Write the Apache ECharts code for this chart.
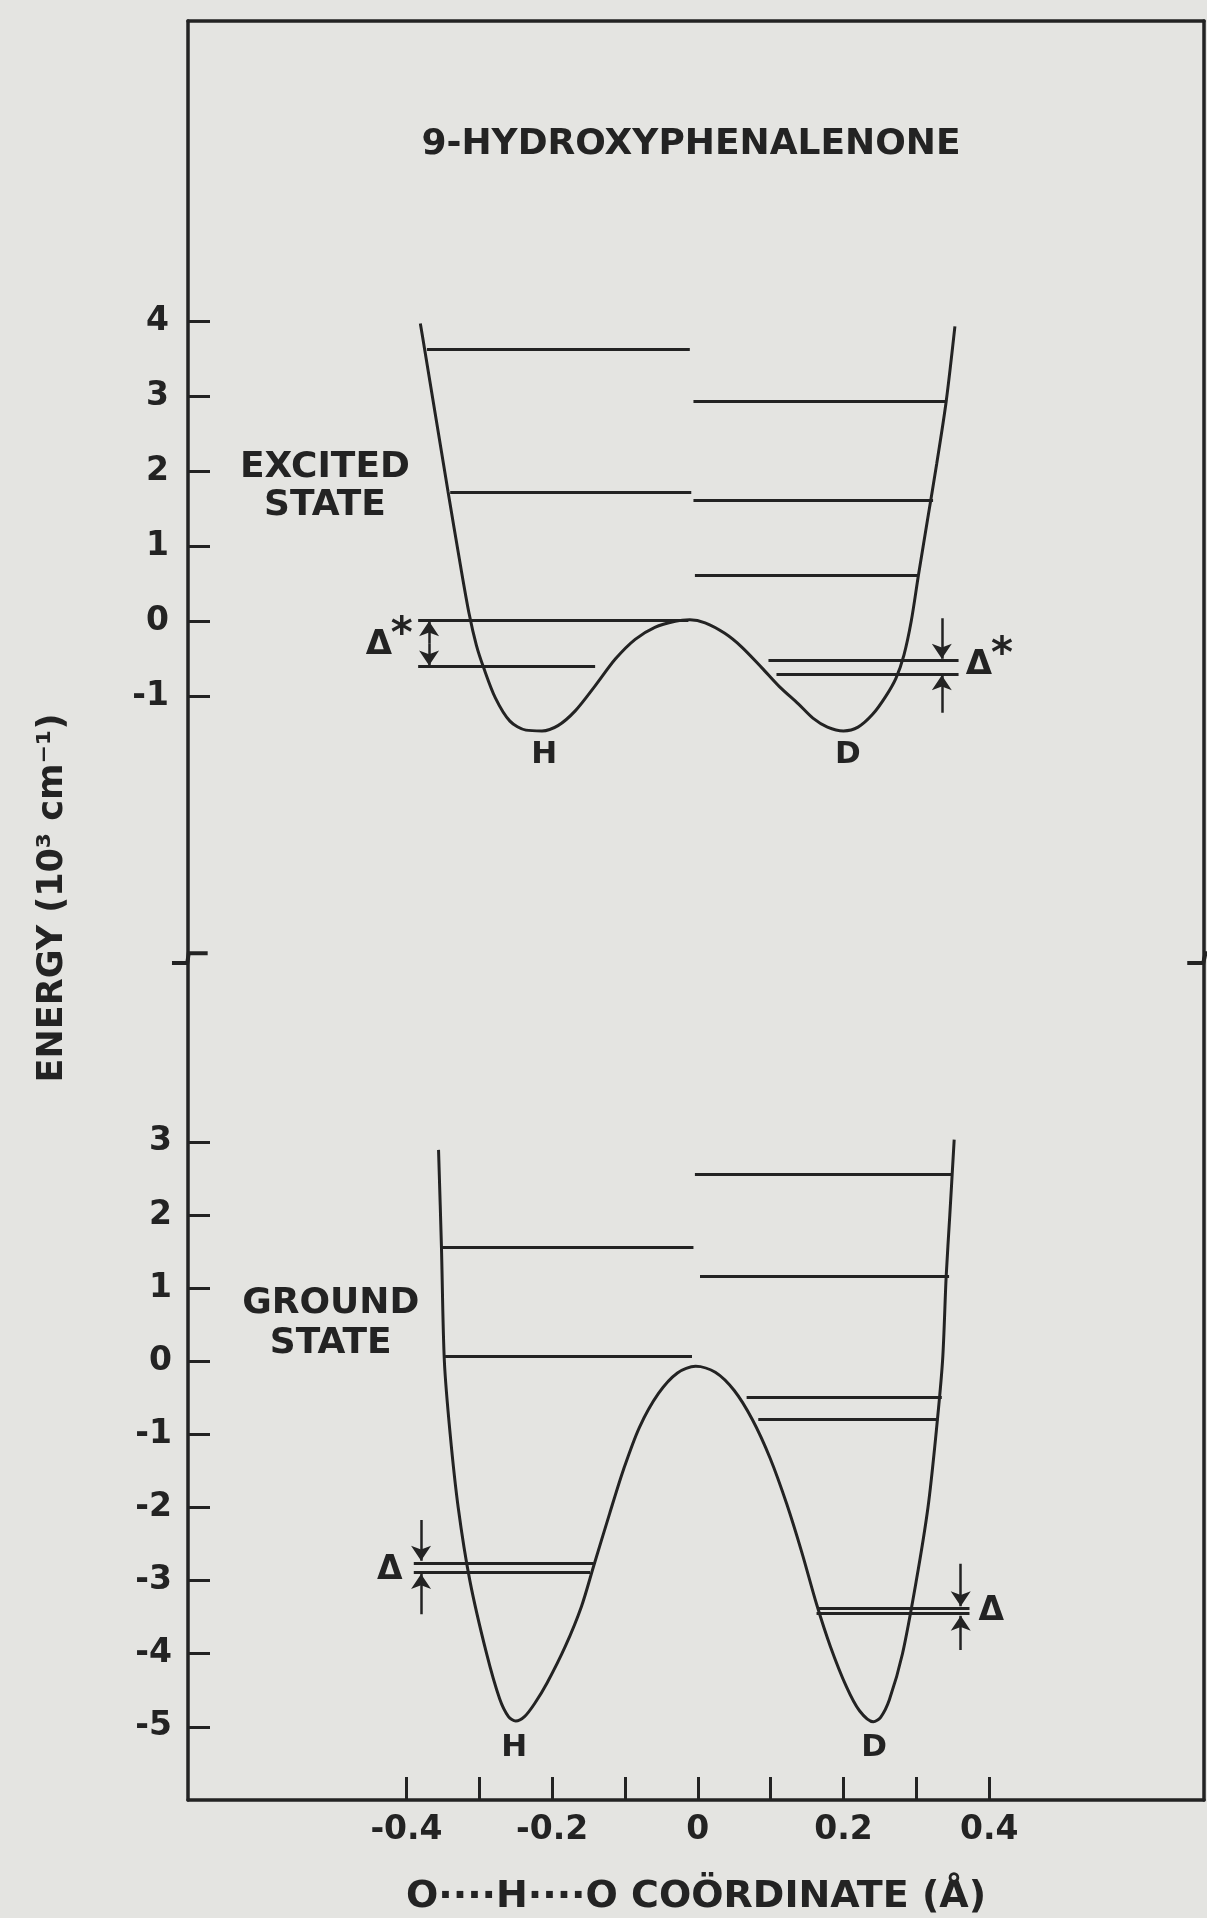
<!DOCTYPE html>
<html><head><meta charset="utf-8">
<script src="https://cdn.jsdelivr.net/npm/echarts@6/dist/echarts.min.js"></script>
<style>html,body{margin:0;padding:0;background:#e4e4e1;}#c{width:1207px;height:1918px;}</style>
</head><body><div id="c"></div>
<script>
// ---- axis ticks / labels ----
const xTickValues = [-0.4, -0.3, -0.2, -0.1, 0, 0.1, 0.2, 0.3, 0.4];
const xLabelValues = [-0.4, -0.2, 0, 0.2, 0.4];
const excitedTickValues = [-1, 0, 1, 2, 3, 4];
const groundTickValues = [-5, -4, -3, -2, -1, 0, 1, 2, 3];

// ---- potential curves [x (Å), energy (10^3 cm^-1)] ----
const excitedCurve = [
  [-0.381, 3.97], [-0.375, 3.62], [-0.343, 1.73], [-0.326, 0.75], [-0.314, 0.10],
  [-0.304, -0.32], [-0.294, -0.62], [-0.278, -1.02], [-0.258, -1.33], [-0.236, -1.45],
  [-0.214, -1.46], [-0.192, -1.39], [-0.168, -1.19], [-0.141, -0.86], [-0.113, -0.50],
  [-0.086, -0.24], [-0.059, -0.08], [-0.031, 0.00], [-0.011, 0.02], [0.010, -0.02],
  [0.037, -0.16], [0.060, -0.34], [0.088, -0.62], [0.112, -0.87], [0.138, -1.10],
  [0.158, -1.29], [0.178, -1.41], [0.200, -1.46], [0.220, -1.41], [0.240, -1.24],
  [0.258, -1.00], [0.272, -0.76], [0.283, -0.45], [0.293, 0.00], [0.303, 0.62],
  [0.316, 1.39], [0.328, 2.10], [0.341, 2.93], [0.353, 3.93]
];
const groundCurve = [
  [-0.356, 2.89], [-0.352, 1.56], [-0.348, 0.00], [-0.340, -1.00], [-0.329, -2.00],
  [-0.313, -3.00], [-0.290, -4.00], [-0.272, -4.62], [-0.260, -4.86], [-0.250, -4.92],
  [-0.238, -4.86], [-0.224, -4.68], [-0.207, -4.40], [-0.182, -3.90], [-0.160, -3.36],
  [-0.143, -2.80], [-0.121, -2.08], [-0.102, -1.48], [-0.080, -0.90], [-0.054, -0.44],
  [-0.028, -0.16], [-0.003, -0.07], [0.024, -0.15], [0.050, -0.40], [0.075, -0.80],
  [0.099, -1.32], [0.122, -1.95], [0.143, -2.62], [0.163, -3.32], [0.182, -3.90],
  [0.204, -4.45], [0.222, -4.78], [0.241, -4.93], [0.251, -4.87], [0.263, -4.63],
  [0.281, -4.00], [0.300, -3.00], [0.316, -2.00], [0.327, -1.00], [0.336, 0.00],
  [0.341, 1.16], [0.346, 2.00], [0.352, 3.03]
];

// ---- vibrational levels [xStart, xEnd, energy] ----
const excitedLevels = [
  [-0.372, -0.011, 3.62], [-0.340, -0.009, 1.72], [-0.384, -0.013, 0.01], [-0.384, -0.141, -0.60],
  [-0.006, 0.341, 2.93], [-0.006, 0.323, 1.61], [-0.004, 0.303, 0.62],
  [0.097, 0.358, -0.525], [0.108, 0.358, -0.70]
];
const groundLevels = [
  [-0.352, -0.006, 1.56], [-0.347, -0.008, 0.07], [-0.390, -0.143, -2.76], [-0.390, -0.148, -2.88],
  [-0.004, 0.349, 2.56], [0.003, 0.345, 1.16], [0.067, 0.335, -0.49], [0.083, 0.330, -0.80],
  [0.165, 0.373, -3.38], [0.163, 0.373, -3.45]
];

// ---- splitting arrows [x, yFrom, yTo] ----
const excitedArrows = [
  [-0.369, -0.30, 0.0], [-0.369, -0.30, -0.59],
  [0.335, 0.04, -0.50], [0.335, -1.22, -0.72]
];
const groundArrows = [
  [-0.380, -2.17, -2.73], [-0.380, -3.46, -2.91],
  [0.361, -2.77, -3.35], [0.361, -3.95, -3.48]
];

// ---- annotations [x, y, text] ----
const excitedStateLabel = [[-0.512, 1.79, 'EXCITED\nSTATE']];
const groundStateLabel = [[-0.504, 0.52, 'GROUND\nSTATE']];
const excitedWellLabels = [[-0.211, -1.78, 'H'], [0.206, -1.78, 'D']];
const groundWellLabels = [[-0.252, -5.29, 'H'], [0.242, -5.29, 'D']];
const excitedDeltaLabels = [[-0.438, -0.32, 'Δ'], [0.386, -0.58, 'Δ']];
const groundDeltaLabels = [[-0.423, -2.86, 'Δ'], [0.403, -3.42, 'Δ']];

const INK = '#232323';
const FONT = 'DejaVu Sans';

const chart = echarts.init(document.getElementById('c'), null, {renderer: 'canvas'});

function levelSeries(levels, gi) {
  return {
    type: 'lines', coordinateSystem: 'cartesian2d', xAxisIndex: gi, yAxisIndex: gi * 2,
    polyline: false, silent: true, z: 3,
    lineStyle: {color: INK, width: 3, opacity: 1},
    data: levels.map(l => ({coords: [[l[0], l[2]], [l[1], l[2]]]}))
  };
}
function arrowSeries(arrows, gi) {
  return {
    type: 'lines', coordinateSystem: 'cartesian2d', xAxisIndex: gi, yAxisIndex: gi * 2,
    polyline: false, silent: true, z: 4,
    symbol: ['none', 'arrow'], symbolSize: 15,
    lineStyle: {color: INK, width: 2.5, opacity: 1},
    itemStyle: {color: INK, opacity: 1},
    data: arrows.map(a => ({coords: [[a[0], a[1]], [a[0], a[2]]]}))
  };
}
function textSeries(items, gi, size, lineH, offset) {
  return {
    type: 'scatter', xAxisIndex: gi, yAxisIndex: gi * 2, silent: true, z: 5,
    symbolSize: 1, itemStyle: {color: 'rgba(0,0,0,0)', opacity: 1},
    label: {
      show: true, position: 'inside', formatter: '{b}', offset: offset || [0, 0],
      color: INK, opacity: 1, fontFamily: FONT, fontWeight: 'bold', fontSize: size, lineHeight: lineH || size,
      align: 'center', verticalAlign: 'middle'
    },
    data: items.map(t => ({value: [t[0], t[1]], name: t[2]}))
  };
}
function starSeries(items, gi) {
  return textSeries(items.map(t => [t[0], t[1], '*']), gi, 42, 42, [23, -9]);
}

const axisFont = {color: INK, fontFamily: FONT, fontWeight: 'bold', fontSize: 33};
const lineStyleAxis = {color: INK, width: 3.5};

chart.setOption({
  backgroundColor: '#e4e4e1',
  animation: false,
  title: {
    text: '9-HYDROXYPHENALENONE', left: 691, top: 127, textAlign: 'center', padding: 0,
    textStyle: {color: INK, fontFamily: FONT, fontWeight: 'bold', fontSize: 36}
  },
  grid: [
    {left: 188, right: 3, top: 21, height: 938},
    {left: 188, right: 3, top: 959, height: 841}
  ],
  xAxis: [
    {gridIndex: 0, type: 'value', min: -0.7, max: 0.695, position: 'top',
     axisLine: {show: true, onZero: false, lineStyle: lineStyleAxis},
     axisTick: {show: false}, axisLabel: {show: false}, splitLine: {show: false}},
    {gridIndex: 1, type: 'value', min: -0.7, max: 0.695, position: 'bottom',
     name: 'O····H····O COÖRDINATE (Å)', nameLocation: 'middle', nameGap: 78,
     nameTextStyle: {color: INK, fontFamily: FONT, fontWeight: 'bold', fontSize: 38},
     axisLine: {show: true, onZero: false, lineStyle: lineStyleAxis},
     axisTick: {show: true, inside: true, length: 23, customValues: xTickValues, lineStyle: {color: INK, width: 3}},
     axisLabel: Object.assign({show: true, margin: 14, customValues: xLabelValues}, axisFont),
     splitLine: {show: false}}
  ],
  yAxis: [
    {gridIndex: 0, type: 'value', min: -4.5, max: 8, position: 'left',
     axisLine: {show: true, onZero: false, lineStyle: lineStyleAxis},
     axisTick: {show: true, inside: true, length: 22, customValues: excitedTickValues, lineStyle: {color: INK, width: 3}},
     axisLabel: Object.assign({show: true, margin: 19, customValues: excitedTickValues}, axisFont),
     splitLine: {show: false}},
    {gridIndex: 0, type: 'value', min: -4.5, max: 8, position: 'right',
     axisLine: {show: true, onZero: false, lineStyle: lineStyleAxis},
     axisTick: {show: false}, axisLabel: {show: false}, splitLine: {show: false}},
    {gridIndex: 1, type: 'value', min: -6, max: 5.5, position: 'left',
     axisLine: {show: true, onZero: false, lineStyle: lineStyleAxis},
     axisTick: {show: true, inside: true, length: 22, customValues: groundTickValues, lineStyle: {color: INK, width: 3}},
     axisLabel: Object.assign({show: true, margin: 16, customValues: groundTickValues}, axisFont),
     splitLine: {show: false}},
    {gridIndex: 1, type: 'value', min: -6, max: 5.5, position: 'right',
     axisLine: {show: true, onZero: false, lineStyle: lineStyleAxis},
     axisTick: {show: false}, axisLabel: {show: false}, splitLine: {show: false}}
  ],
  graphic: [{
    type: 'text', x: 53, y: 898, rotation: Math.PI / 2, silent: true,
    style: {text: 'ENERGY (10³ cm⁻¹)', fill: INK, font: 'bold 35px "DejaVu Sans"',
            align: 'center', verticalAlign: 'middle', textAlign: 'center', textVerticalAlign: 'middle'}
  }],
  series: [
    {type: 'line', xAxisIndex: 0, yAxisIndex: 0, data: excitedCurve, smooth: 0.3, showSymbol: false,
     silent: true, lineStyle: {color: INK, width: 3}, z: 3},
    {type: 'line', xAxisIndex: 1, yAxisIndex: 2, data: groundCurve, smooth: 0.3, showSymbol: false,
     silent: true, lineStyle: {color: INK, width: 3}, z: 3},
    levelSeries(excitedLevels, 0),
    levelSeries(groundLevels, 1),
    arrowSeries(excitedArrows, 0),
    arrowSeries(groundArrows, 1),
    // axis break marks
    {type: 'lines', coordinateSystem: 'cartesian2d', xAxisIndex: 1, yAxisIndex: 2, polyline: true,
     clip: false, silent: true, z: 6, lineStyle: {color: INK, width: 4, opacity: 1},
     data: [{coords: [[-0.722, 5.445], [-0.701, 5.445], [-0.699, 5.58], [-0.673, 5.58]]},
            {coords: [[0.672, 5.445], [0.694, 5.445], [0.697, 5.58], [0.72, 5.58]]}]},
    textSeries(excitedStateLabel, 0, 36, 38),
    textSeries(groundStateLabel, 1, 36, 40),
    textSeries(excitedWellLabels, 0, 31),
    textSeries(groundWellLabels, 1, 31),
    textSeries(excitedDeltaLabels, 0, 34),
    textSeries(groundDeltaLabels, 1, 33),
    starSeries(excitedDeltaLabels, 0)
  ]
});
</script></body></html>
